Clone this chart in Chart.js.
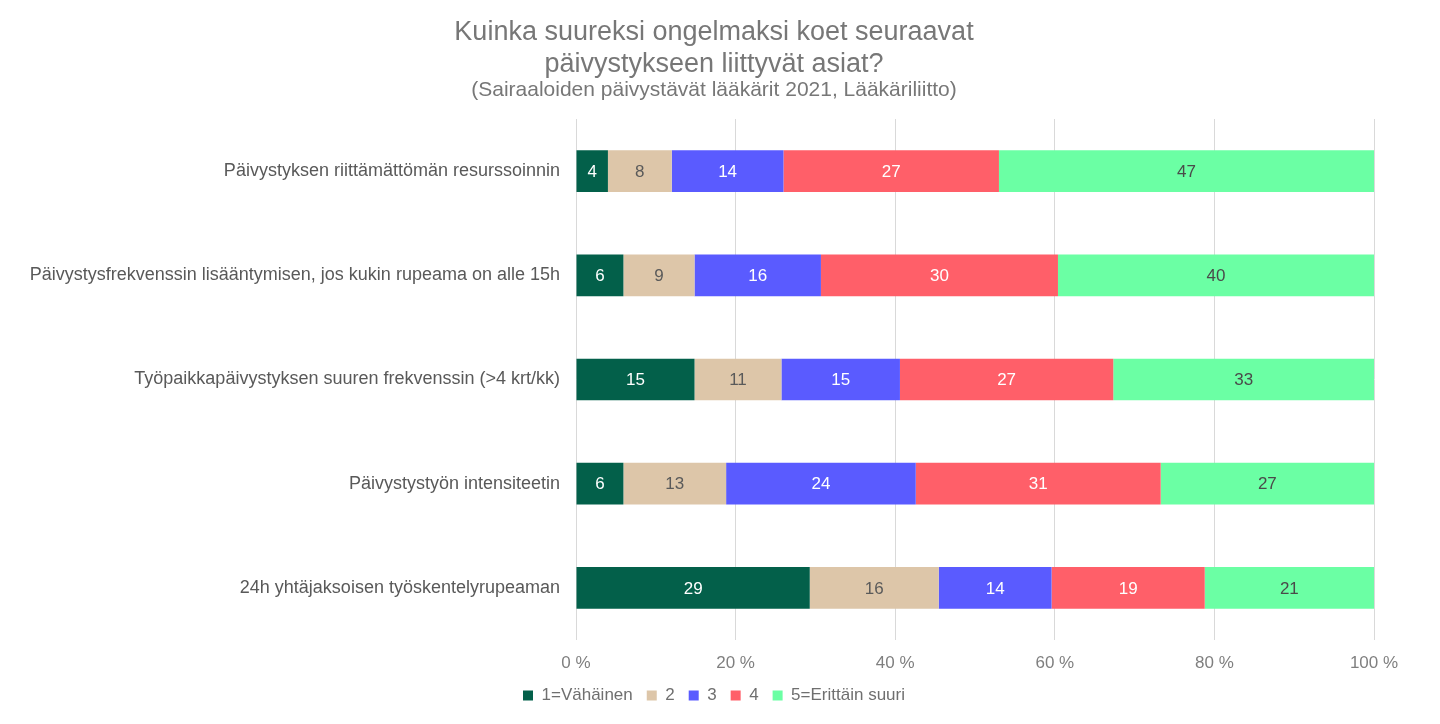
<!DOCTYPE html>
<html>
<head>
<meta charset="utf-8">
<script src="https://cdn.jsdelivr.net/npm/chart.js@4/dist/chart.umd.min.js"></script>
<style>
html,body{margin:0;padding:0;background:#fff;}
#wrap{width:1440px;height:724px;position:relative;}
</style>
</head>
<body>
<div id="wrap"><canvas id="c" width="1440" height="724"></canvas></div>
<script>
const categories = [
  "Päivystyksen riittämättömän resurssoinnin",
  "Päivystysfrekvenssin lisääntymisen, jos kukin rupeama on alle 15h",
  "Työpaikkapäivystyksen suuren frekvenssin (>4 krt/kk)",
  "Päivystystyön intensiteetin",
  "24h yhtäjaksoisen työskentelyrupeaman"
];
const seriesNames = ["1=Vähäinen", "2", "3", "4", "5=Erittäin suuri"];
const s1 = [4, 6, 15, 6, 29];
const s2 = [8, 9, 11, 13, 16];
const s3 = [14, 16, 15, 24, 14];
const s4 = [27, 30, 27, 31, 19];
const s5 = [47, 40, 33, 27, 21];
const xTicks = [0, 20, 40, 60, 80, 100];

const seriesValues = [s1, s2, s3, s4, s5];
const colors = ["#03604A", "#DDC6A9", "#5A5BFF", "#FF5F69", "#6BFFA4"];
const labelColors = ["#ffffff", "#5a5a5a", "#ffffff", "#ffffff", "#4a4a4a"];
const FONT = "'Liberation Sans', Arial, sans-serif";

const rowSums = categories.map((_, i) => seriesValues.reduce((a, s) => a + s[i], 0));
const datasets = seriesValues.map((vals, k) => ({
  label: seriesNames[k],
  data: vals.map((v, i) => v / rowSums[i] * 100),
  raw: vals,
  backgroundColor: colors[k],
  borderWidth: 0,
  barPercentage: 0.8,
  categoryPercentage: 0.5
}));

const valueLabels = {
  id: 'valueLabels',
  afterDatasetsDraw(chart) {
    const ctx = chart.ctx;
    ctx.save();
    ctx.font = "17px " + FONT;
    ctx.textAlign = 'center';
    ctx.textBaseline = 'middle';
    chart.data.datasets.forEach((ds, k) => {
      const meta = chart.getDatasetMeta(k);
      meta.data.forEach((el, i) => {
        ctx.fillStyle = labelColors[k];
        ctx.fillText(String(ds.raw[i]), (el.x + el.base) / 2, el.y + 1);
      });
    });
    ctx.restore();
  }
};

new Chart(document.getElementById('c'), {
  type: 'bar',
  data: { labels: categories, datasets },
  plugins: [valueLabels],
  options: {
    indexAxis: 'y',
    responsive: false,
    animation: false,
    layout: { padding: { left: 0, right: 12, top: 0, bottom: 10 } },
    scales: {
      x: {
        stacked: true,
        min: 0, max: 100,
        afterBuildTicks(scale) { scale.ticks = xTicks.map(v => ({ value: v })); },
        afterFit(scale) { scale.height = 33; },
        ticks: {
          callback: v => v + ' %',
          color: '#7f7f7f',
          font: { family: FONT, size: 17 },
          padding: 13,
          maxRotation: 0
        },
        grid: { color: '#d9d9d9', drawTicks: false, lineWidth: 1 },
        border: { display: false }
      },
      y: {
        stacked: true,
        afterFit(scale) { scale.width = 576; },
        ticks: {
          color: '#595959',
          font: { family: FONT, size: 18 },
          padding: 8
        },
        grid: { display: false },
        border: { display: false }
      },
      yRight: {
        type: 'category',
        position: 'right',
        labels: categories,
        afterFit(scale) { scale.width = 54; },
        ticks: { display: false },
        grid: { display: false, drawTicks: false },
        border: { display: false }
      }
    },
    plugins: {
      title: {
        display: true,
        text: ["Kuinka suureksi ongelmaksi koet seuraavat", "päivystykseen liittyvät asiat?"],
        color: '#777777',
        font: { family: FONT, size: 27, weight: 'normal', lineHeight: '32px' },
        padding: { top: 17, bottom: 0 }
      },
      subtitle: {
        display: true,
        text: "(Sairaaloiden päivystävät lääkärit 2021, Lääkäriliitto)",
        color: '#777777',
        font: { family: FONT, size: 21, weight: 'normal', lineHeight: '18px' },
        padding: { top: 0, bottom: 20 }
      },
      legend: {
        position: 'bottom',
        labels: {
          color: '#6f6f6f',
          font: { family: FONT, size: 17 },
          boxWidth: 10,
          boxHeight: 10,
          padding: 14
        }
      },
      tooltip: { enabled: false }
    }
  }
});
</script>
</body>
</html>
